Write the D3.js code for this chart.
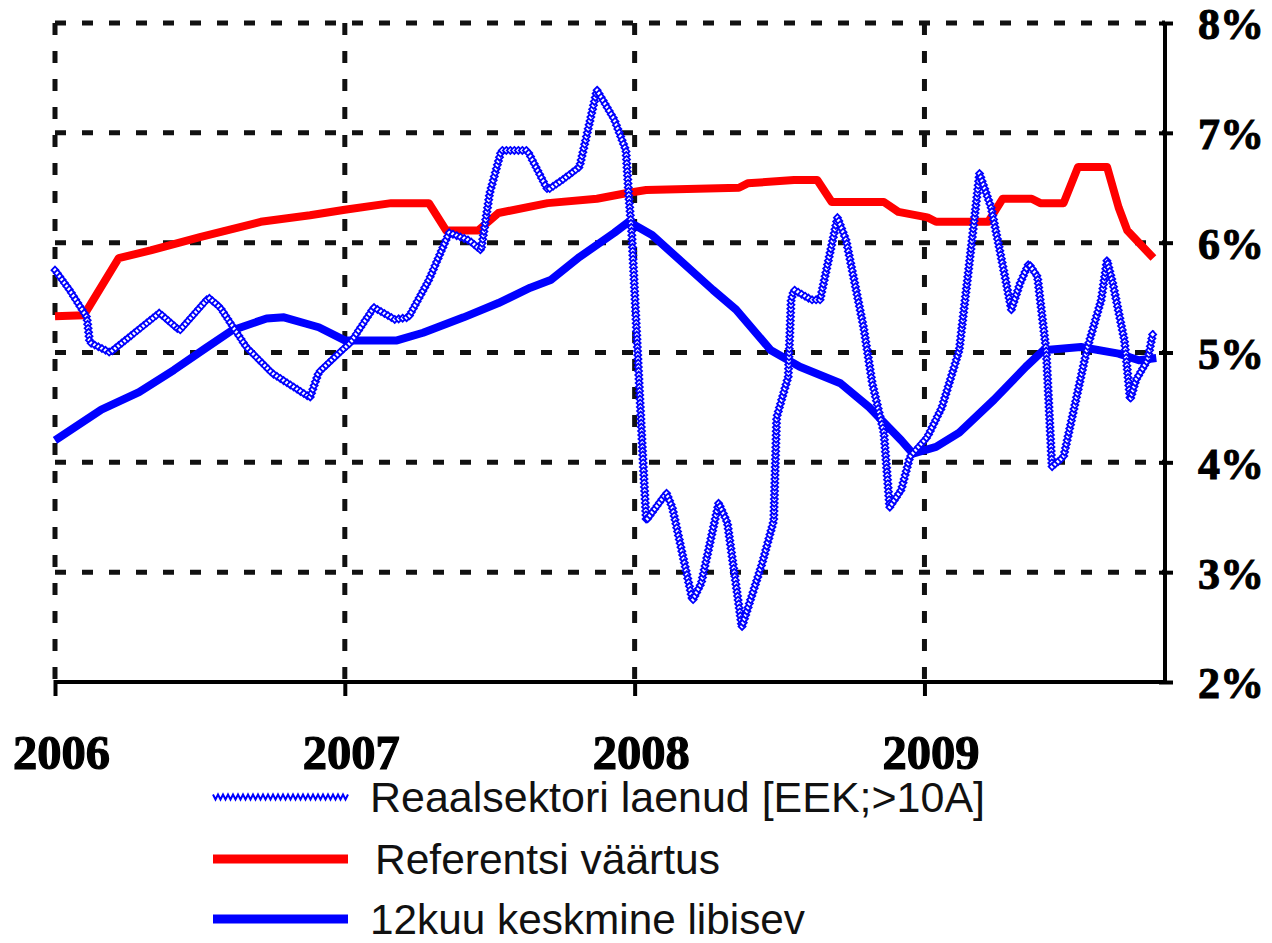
<!DOCTYPE html>
<html>
<head>
<meta charset="utf-8">
<script src="https://cdn.jsdelivr.net/npm/d3@7"></script>
<style>
  html, body { margin: 0; padding: 0; background: #fff; }
  svg { display: block; }
</style>
</head>
<body>
<svg id="chart" width="1272" height="943"></svg>
<script>
// ---- data (decimal year, percent) ----
const loanT = [2006.00,2006.05,2006.11,2006.12,2006.19,2006.36,2006.43,2006.53,2006.57,2006.66,2006.75,2006.88,2006.91,2006.99,2007.02,2007.10,2007.16,2007.17,2007.22,2007.29,2007.36,2007.43,2007.47,2007.50,2007.54,2007.63,2007.70,2007.75,2007.81,2007.87,2007.93,2007.97,2007.98,2007.99,2008.01,2008.03,2008.04,2008.11,2008.13,2008.20,2008.23,2008.29,2008.32,2008.37,2008.44,2008.48,2008.49,2008.53,2008.54,2008.55,2008.61,2008.64,2008.70,2008.73,2008.79,2008.82,2008.86,2008.88,2008.92,2008.95,2009.01,2009.06,2009.12,2009.16,2009.19,2009.23,2009.26,2009.30,2009.33,2009.36,2009.39,2009.42,2009.44,2009.48,2009.56,2009.61,2009.63,2009.65,2009.69,2009.71,2009.73,2009.77,2009.79];
const loanV = [5.75,5.57,5.32,5.09,5.00,5.36,5.20,5.50,5.41,5.05,4.81,4.59,4.82,5.02,5.09,5.41,5.32,5.30,5.32,5.66,6.09,6.02,5.93,6.45,6.84,6.84,6.48,6.57,6.69,7.39,7.12,6.84,6.42,6.09,5.02,3.96,3.47,3.72,3.59,2.74,2.90,3.63,3.45,2.50,3.08,3.47,4.41,4.78,5.48,5.57,5.48,5.48,6.23,6.02,5.23,4.72,4.27,3.59,3.75,4.05,4.23,4.50,5.02,5.93,6.63,6.32,5.93,5.39,5.63,5.81,5.69,5.02,3.96,4.05,5.02,5.48,5.84,5.63,5.11,4.57,4.75,4.93,5.20];

const refT = [2006.00,2006.10,2006.22,2006.33,2006.50,2006.71,2006.88,2007.00,2007.16,2007.29,2007.35,2007.46,2007.53,2007.70,2007.87,2007.97,2008.04,2008.36,2008.39,2008.55,2008.63,2008.68,2008.86,2008.91,2009.01,2009.04,2009.22,2009.27,2009.37,2009.40,2009.48,2009.53,2009.63,2009.67,2009.70,2009.79];
const refV = [5.33,5.34,5.86,5.93,6.05,6.19,6.25,6.30,6.36,6.36,6.11,6.11,6.27,6.36,6.40,6.45,6.48,6.50,6.54,6.57,6.57,6.37,6.37,6.28,6.23,6.19,6.19,6.40,6.40,6.36,6.36,6.69,6.69,6.32,6.11,5.86];

const avgT = [2006.00,2006.16,2006.29,2006.41,2006.52,2006.61,2006.73,2006.79,2006.91,2007.00,2007.18,2007.27,2007.41,2007.53,2007.64,2007.71,2007.81,2007.93,2007.98,2008.06,2008.27,2008.35,2008.47,2008.57,2008.71,2008.81,2008.92,2008.96,2009.04,2009.12,2009.24,2009.35,2009.41,2009.54,2009.67,2009.74,2009.80];
const avgV = [4.20,4.48,4.64,4.84,5.04,5.20,5.31,5.32,5.23,5.11,5.11,5.18,5.32,5.45,5.59,5.66,5.87,6.09,6.19,6.07,5.57,5.39,5.02,4.87,4.72,4.50,4.20,4.08,4.14,4.27,4.57,4.87,5.02,5.05,4.99,4.93,4.95];

const yearTicks = [2006, 2007, 2008, 2009];
const pctTicks = [2, 3, 4, 5, 6, 7, 8];
const legendLabels = ["Reaalsektori laenud [EEK;>10A]", "Referentsi väärtus", "12kuu keskmine libisev"];

// ---- drawing ----
const svg = d3.select("#chart");
svg.append("rect").attr("width", 1272).attr("height", 943).attr("fill", "#fff");

const x = d3.scaleLinear().domain([2006, 2009.83]).range([55, 1165]);
const y = d3.scaleLinear().domain([2, 8]).range([682, 23]);

const grid = svg.append("g");
grid.selectAll("line.h").data(pctTicks.filter(d => d > 2)).join("line")
  .attr("x1", x(2006)).attr("x2", x.range()[1])
  .attr("y1", d => y(d)).attr("y2", d => y(d))
  .attr("stroke", "#111").attr("stroke-width", 5).attr("stroke-dasharray", "11,16");
grid.selectAll("line.v").data(yearTicks).join("line")
  .attr("x1", d => x(d)).attr("x2", d => x(d))
  .attr("y1", y(8)).attr("y2", y(2))
  .attr("stroke", "#111").attr("stroke-width", 5).attr("stroke-dasharray", "12,16");

// right axis
const yAxis = svg.append("g").attr("transform", `translate(${x.range()[1]},0)`)
  .call(d3.axisRight(y).tickValues(pctTicks).tickFormat(d => d + "%").tickSize(8).tickPadding(25));
yAxis.select(".domain").attr("stroke", "#000").attr("stroke-width", 4).attr("d", `M0,${y(8)}V${y(2)}`);
yAxis.selectAll(".tick line").attr("stroke", "#000").attr("stroke-width", 4).attr("x1", -6).attr("x2", 8);
yAxis.selectAll(".tick text")
  .attr("font-family", "'Liberation Serif', 'DejaVu Serif', serif")
  .attr("font-weight", "bold").attr("font-size", 44).attr("fill", "#000")
  .attr("stroke", "#000").attr("stroke-width", 1)
  .attr("dy", "0.36em");

// bottom axis
const xAxis = svg.append("g").attr("transform", `translate(0,${y(2)})`)
  .call(d3.axisBottom(x).tickValues(yearTicks).tickFormat(d3.format("d")).tickSize(14));
xAxis.select(".domain").attr("stroke", "#000").attr("stroke-width", 4).attr("d", `M${x(2006)},0H${x.range()[1] + 2}`);
xAxis.selectAll(".tick line").attr("stroke", "#000").attr("stroke-width", 4).attr("y1", -2);
xAxis.selectAll(".tick text")
  .attr("font-family", "'Liberation Serif', 'DejaVu Serif', serif")
  .attr("font-weight", "bold").attr("font-size", 48).attr("fill", "#000")
  .attr("stroke", "#000").attr("stroke-width", 1.2)
  .attr("x", 6).attr("y", 87).attr("dy", 0)
  .attr("textLength", 97).attr("lengthAdjust", "spacingAndGlyphs");

// lines
const line = d3.line().x(d => x(d[0])).y(d => y(d[1]));
const refData = refT.map((t, i) => [t, refV[i]]);
const avgData = avgT.map((t, i) => [t, avgV[i]]);
const loanData = loanT.map((t, i) => [t, loanV[i]]);

svg.append("path").datum(refData).attr("d", line)
  .attr("fill", "none").attr("stroke", "#ff0000").attr("stroke-width", 8)
  .attr("stroke-linejoin", "round");
svg.append("path").datum(avgData).attr("d", line)
  .attr("fill", "none").attr("stroke", "#0000ff").attr("stroke-width", 8)
  .attr("stroke-linejoin", "round");

const loanPath = svg.append("path").datum(loanData).attr("d", line)
  .attr("fill", "none").attr("stroke", "#0000ff").attr("stroke-width", 2);
const node = loanPath.node();
const L = node.getTotalLength();
const marks = svg.append("g");
for (let s = 0; s <= L; s += 4) {
  const p = node.getPointAtLength(s);
  marks.append("path").attr("d", "M0,-3.5L3.5,0L0,3.5L-3.5,0Z")
    .attr("transform", `translate(${p.x},${p.y})`)
    .attr("fill", "#fff").attr("stroke", "#0000ff").attr("stroke-width", 1.8);
}

// legend
const lg = svg.append("g");
const rowsY = [797, 859, 919];
// zigzag sample
const zz = [];
for (let xx = 213; xx <= 350; xx += 2.5) zz.push([xx, rowsY[0] + ((Math.round((xx - 213) / 2.5) % 2) ? 2.5 : -2.5)]);
lg.append("path").attr("d", d3.line()(zz)).attr("fill", "none").attr("stroke", "#0000ff").attr("stroke-width", 2);
lg.append("line").attr("x1", 213).attr("x2", 348).attr("y1", rowsY[1]).attr("y2", rowsY[1])
  .attr("stroke", "#ff0000").attr("stroke-width", 9);
lg.append("line").attr("x1", 213).attr("x2", 348).attr("y1", rowsY[2]).attr("y2", rowsY[2])
  .attr("stroke", "#0000ff").attr("stroke-width", 9);
const textX = [370, 375, 370];
const textW = [615, 345, 435];
lg.selectAll("text").data(legendLabels).join("text")
  .attr("x", (d, i) => textX[i]).attr("y", (d, i) => rowsY[i] + 15)
  .attr("font-family", "'Liberation Sans', Arial, sans-serif")
  .attr("font-size", 42).attr("fill", "#111")
  .attr("textLength", (d, i) => textW[i]).attr("lengthAdjust", "spacingAndGlyphs")
  .text(d => d);
</script>
</body>
</html>
